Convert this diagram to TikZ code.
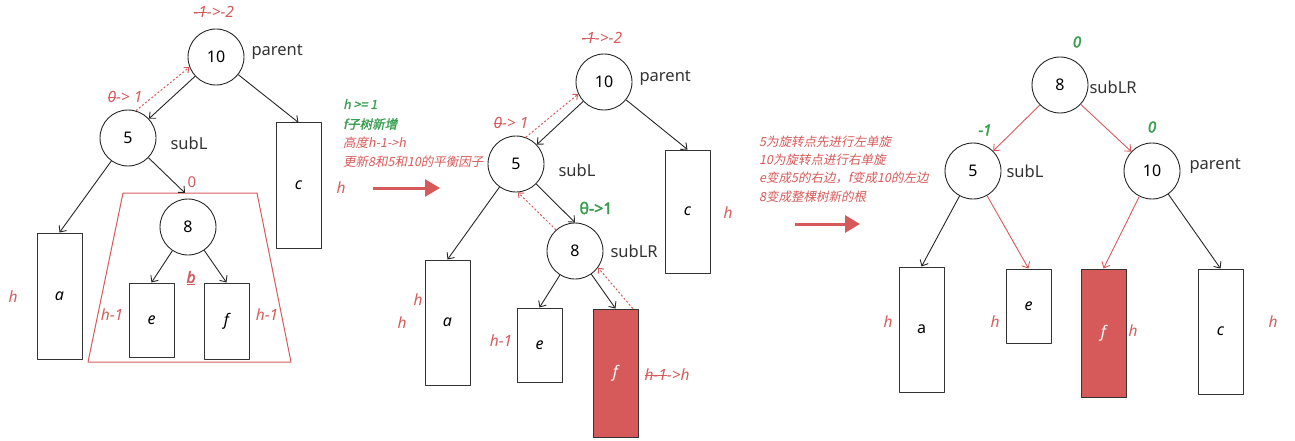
\documentclass[tikz,border=0pt]{standalone}
\usepackage{fontspec}
\setmainfont{Noto Sans}
\newfontfamily\sansb[FakeBold=2.5]{Noto Sans}
\newfontfamily\cjk[FakeSlant=0.2]{Noto Sans CJK SC}
\newfontfamily\cjkb[FakeSlant=0.2,FakeBold=1.5]{Noto Sans CJK SC}
\usetikzlibrary{arrows.meta}
\newsavebox\strkbox
\newcommand\strk[1]{\sbox\strkbox{#1}\rlap{\usebox\strkbox}\rule[0.3em]{\wd\strkbox}{0.07em}}

\begin{document}
\begin{tikzpicture}[x=1pt,y=-1pt,line join=round,
  key/.style={circle,draw=black!85,line width=0.9pt,minimum size=56pt,inner sep=0pt,font=\fontsize{16}{18}\selectfont},
  sub/.style={rectangle,draw=black!80,line width=1pt,minimum width=45pt,inner sep=0pt,font=\fontsize{16}{18}\selectfont\itshape},
  lab/.style={anchor=west,text=black!80,font=\fontsize{16.5}{18}\selectfont},
  ht/.style={text=redc,font=\fontsize{15.5}{18}\selectfont\itshape},
  grn/.style={text=greenc,font=\fontsize{15}{18}\sansb\itshape},
  note/.style={anchor=west,inner sep=0pt,font=\fontsize{12.5}{15}\cjk},
  arr/.style={-{Straight Barb[length=5pt,width=9pt]},line width=0.9pt,draw=black!85},
  dots/.style={draw=redc,dash pattern=on 2pt off 2pt,line width=1pt,-{Straight Barb[length=4pt,width=7pt]}},
  big/.style={draw=redc,line width=3pt,-{Triangle[length=15pt,width=17pt]}}]
\definecolor{redc}{RGB}{214,90,90}\definecolor{greenc}{RGB}{58,158,82}
\useasboundingbox (0,0) rectangle (1295,441);
% subtrees: name/x/top/bottom/text
\foreach \n/\x/\ya/\yb/\t in {la/59.5/233/359/a, lc/298.5/123/248/c, le/151.5/283/357/e, lf/226.5/283/359/f,
    ma/447.5/260/385/a, mc/687.5/150/273/c, me/539.5/308/382/e,
    re/1028.5/269/343/e, rc/1220.5/269/394/c}{
  \node[sub,minimum height={\yb-\ya}] (\n) at (\x,{(\ya+\yb)/2}) {\t};}
\node[sub,minimum height=128,fill=redc,text=white] (mf) at (615.5,373) {f};
\node[sub,minimum height=128,fill=redc,text=white] (rf) at (1103.5,333) {f};
\node[sub,minimum height=125,font=\fontsize{16}{18}\selectfont] (ra) at (921.5,329.5) {a};
% keys
\foreach \n/\x/\y/\k in {l10/216/57/10, l5/128/138/5, l8/188/227/8,
    m10/604/82/10, m5/516/164/5, m8/575/251/8, r8/1060/85/8, r5/973/171/5, r10/1152/171/10}{
  \node[key] (\n) at (\x,\y) {\k};}
% left: before the insert
\draw[redc,line width=1pt] (123,193) -- (257,193) -- (291,362) -- (88,362) -- cycle;
\coordinate (ltop) at (185,193);
\draw[arr] (l10) -- (l5);
\draw[arr] (l10) -- (lc.north);
\draw[arr] (l5) -- (la.north);
\draw[arr] (l5) -- (ltop);
\draw[arr] (l8) -- (le.north);
\draw[arr] (l8) -- (lf.north);
\draw[dots] (l5.74) -- (l10.201);
\node[ht,anchor=west] (lbf10) at (190,12) {\strk{-1}->-2};
\node[lab] (lp) at (248,52) {parent};
\node[lab] (ls) at (167,143) {subL};
\node[ht,anchor=west] (lbf5) at (104,97) {\strk{0}-> 1};
\node[text=redc,font=\fontsize{15}{18}\selectfont] (lbf8) at (192,182) {0};
\node[ht,font=\fontsize{15.5}{18}\sansb\itshape] (lb) at (191,278) {\underline{b}};
\node[ht] (lhe) at (112,315) {h-1};
\node[ht] (lhf) at (267,315) {h-1};
\node[ht] (lha) at (13,297) {h};
\node[ht] (lhc) at (341,188) {h};
% middle: f grows, factors updated
\node[note,font=\fontsize{12.5}{15}\cjkb,text=greenc] (t1) at (343,104) {h >= 1};
\node[note,font=\fontsize{12.5}{15}\cjkb,text=greenc] (t2) at (343,124) {f子树新增};
\node[note,text=redc] (t3) at (343,143) {高度h-1->h};
\node[note,text=redc] (t4) at (343,162) {更新8和5和10的平衡因子};
\coordinate (go1) at (373,188); \coordinate (go2) at (440,188);
\draw[big] (go1) -- (go2);
\draw[arr] (m10) -- (m5);
\draw[arr] (m10) -- (mc.north);
\draw[arr] (m5) -- (ma.north);
\draw[arr] (m5) -- (m8.north);
\draw[arr] (m8) -- (me.north);
\draw[arr] (m8) -- (mf.north);
\draw[dots] (m5.70) -- (m10.205);
\draw[dots] (m8.132) -- (m5.274);
\draw[dots] (mf.75) -- (m8.324);
\node[ht,anchor=west] (mbf10) at (578,38) {\strk{-1}->-2};
\node[lab] (mp) at (636,78) {parent};
\node[lab] (ms) at (555,170) {subL};
\node[lab] (mslr) at (607,251) {subLR};
\node[ht,anchor=west] (mbf5) at (490,123) {\strk{0}-> 1};
\node[grn,font=\fontsize{16}{18}\sansb,anchor=west] (mbf8) at (576,208) {θ->1};
\node[ht] (mha1) at (418,300) {h};
\node[ht] (mha2) at (402,323) {h};
\node[ht] (mhe) at (501,341) {h-1};
\node[ht] (mhc) at (728,213) {h};
\node[ht,anchor=west] (mhf) at (641,375) {\strk{h-1}->h};
% right: double rotation done
\node[note,text=redc] (u1) at (759,142) {5为旋转点先进行左单旋};
\node[note,text=redc] (u2) at (759,160) {10为旋转点进行右单旋};
\node[note,text=redc] (u3) at (759,178) {e变成5的右边，f变成10的左边};
\node[note,text=redc] (u4) at (759,197) {8变成整棵树新的根};
\coordinate (go3) at (795,224); \coordinate (go4) at (860,224);
\draw[big] (go3) -- (go4);
\draw[arr,draw=redc] (r8) -- (r5);
\draw[arr,draw=redc] (r8) -- (r10);
\draw[arr] (r5) -- (ra.north);
\draw[arr,draw=redc] (r5) -- (re.north);
\draw[arr,draw=redc] (r10) -- (rf.north);
\draw[arr] (r10) -- (rc.north);
\node[grn] (rbf8) at (1077,42) {0};
\node[grn] (rbf5) at (985,130) {-1};
\node[grn] (rbf10) at (1152,127) {0};
\node[lab] (rslr) at (1086,87) {subLR};
\node[lab] (rs) at (1003,171) {subL};
\node[lab] (rp) at (1186,166) {parent};
\node[ht] (rha) at (888,322) {h};
\node[ht] (rhe) at (995,322) {h};
\node[ht] (rhf) at (1133,331) {h};
\node[ht] (rhc) at (1273,322) {h};
\end{tikzpicture}
\end{document}
